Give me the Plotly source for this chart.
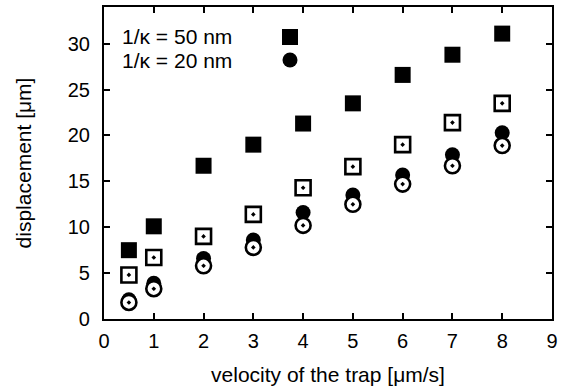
import plotly.graph_objects as go

velocity = [0.5, 1, 2, 3, 4, 5, 6, 7, 8]
sq_filled = [7.5, 10.1, 16.7, 19.0, 21.3, 23.5, 26.6, 28.8, 31.1]
sq_open = [4.8, 6.7, 9.0, 11.4, 14.3, 16.6, 19.0, 21.4, 23.5]
circ_filled = [2.1, 3.9, 6.6, 8.6, 11.6, 13.5, 15.7, 17.9, 20.3]
circ_open = [1.8, 3.3, 5.8, 7.8, 10.2, 12.5, 14.7, 16.7, 18.9]
x_ticks = [0, 1, 2, 3, 4, 5, 6, 7, 8, 9]
y_ticks = [0, 5, 10, 15, 20, 25, 30]
legend_labels = ["1/\u03ba = 50 nm", "1/\u03ba = 20 nm"]

FONT = "Liberation Sans, Arial, sans-serif"
FS = 20
fig = go.Figure()

fig.add_trace(go.Scatter(x=velocity, y=sq_filled, mode="markers",
                         marker=dict(symbol="square", size=16, color="black"),
                         showlegend=False))
fig.add_trace(go.Scatter(x=velocity, y=sq_open, mode="markers",
                         marker=dict(symbol="square-open-dot", size=15, color="black",
                                     line=dict(width=2.6, color="black")),
                         showlegend=False))
fig.add_trace(go.Scatter(x=velocity, y=circ_filled, mode="markers",
                         marker=dict(symbol="circle", size=15, color="black"),
                         showlegend=False))
fig.add_trace(go.Scatter(x=velocity, y=circ_open, mode="markers",
                         marker=dict(symbol="circle", size=15, color="white",
                                     line=dict(width=0)),
                         showlegend=False))
fig.add_trace(go.Scatter(x=velocity, y=circ_open, mode="markers",
                         marker=dict(symbol="circle-open-dot", size=15, color="black",
                                     line=dict(width=2.6, color="black")),
                         showlegend=False))

# gnuplot-style key: text then symbol
PW, PH = 448, 312
ky = [(319 - 36) / PH, (319 - 60.5) / PH]
for i, lab in enumerate(legend_labels):
    fig.add_annotation(xref="paper", yref="paper", x=(122 - 104) / PW, y=ky[i], text=lab,
                       showarrow=False, xanchor="left", yanchor="middle",
                       xshift=-2,
                       font=dict(family=FONT, size=21, color="black"))
kx = (290 - 104) / PW
kw, kh = 8 / PW, 8 / PH
fig.add_shape(type="rect", xref="paper", yref="paper",
              x0=kx - kw, x1=kx + kw, y0=(319 - 37) / PH - kh, y1=(319 - 37) / PH + kh,
              fillcolor="black", line=dict(width=0))
kw2, kh2 = 7.5 / PW, 7.5 / PH
fig.add_shape(type="circle", xref="paper", yref="paper",
              x0=kx - kw2, x1=kx + kw2, y0=(319 - 60) / PH - kh2, y1=(319 - 60) / PH + kh2,
              fillcolor="black", line=dict(width=0))

axis_common = dict(showline=True, linecolor="black", linewidth=2.2, mirror="ticks",
                   ticks="inside", ticklen=6, tickwidth=2, tickcolor="black",
                   showgrid=False, zeroline=False,
                   tickfont=dict(family=FONT, size=FS, color="black"))
fig.update_xaxes(range=[0, 9.0005], tickmode="array", tickvals=x_ticks,
                 ticklabelstandoff=3,
                 title=dict(text="velocity of the trap [\u03bcm/s]",
                            font=dict(family=FONT, size=21, color="black"), standoff=16),
                 **axis_common)
fig.update_yaxes(range=[0, 34], tickmode="array", tickvals=y_ticks,
                 ticklabelstandoff=8,
                 title=dict(text="displacement [\u03bcm]",
                            font=dict(family=FONT, size=21, color="black"), standoff=30),
                 **axis_common)

fig.update_layout(width=566, height=391, plot_bgcolor="white", paper_bgcolor="white",
                  margin=dict(l=104, r=14, t=7, b=72, autoexpand=False),
                  font=dict(family=FONT, size=FS, color="black"))

fig.write_html("out.html", config={"displayModeBar": False},
               post_script="document.body.style.margin='0';document.body.style.padding='0';")
